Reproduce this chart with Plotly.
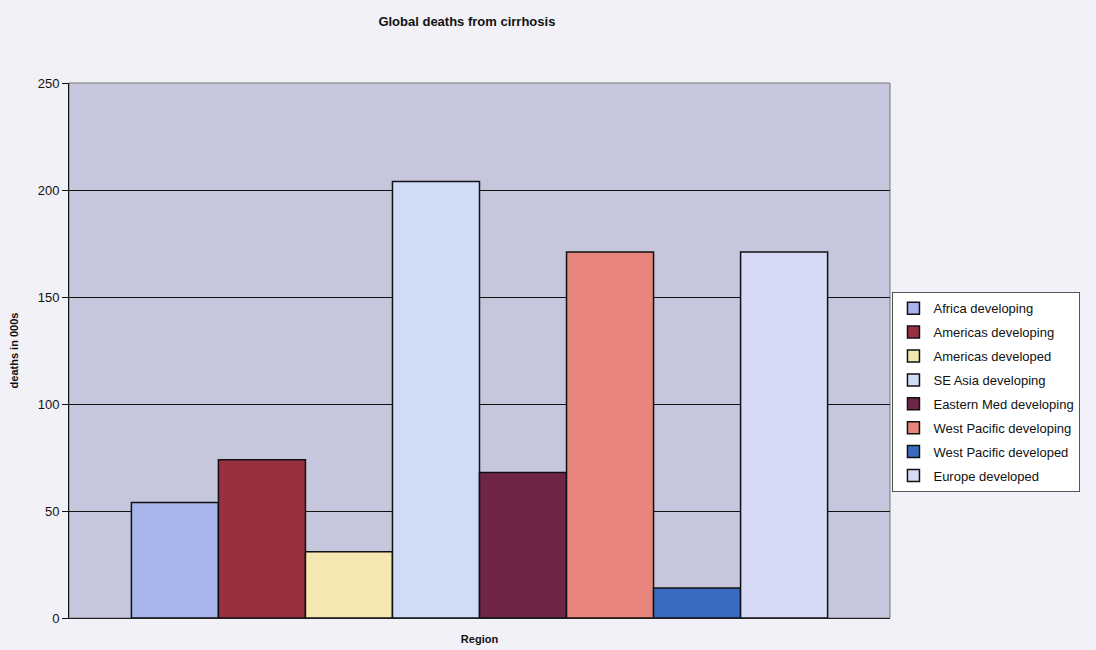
import plotly.graph_objects as go

# Deaths from cirrhosis by WHO region (thousands)
regions = [
    "Africa developing",
    "Americas developing",
    "Americas developed",
    "SE Asia developing",
    "Eastern Med developing",
    "West Pacific developing",
    "West Pacific developed",
    "Europe developed",
]
deaths = [54, 74, 31, 204, 68, 171, 14, 171]
colors = ["#a9b3ec", "#9a2f40", "#f4e7b0", "#d0dcf6", "#6f2547", "#e8857c", "#3a6bc2", "#d6daf6"]

y_ticks = [0, 50, 100, 150, 200, 250]

fig = go.Figure()
for name, val, col in zip(regions, deaths, colors):
    fig.add_trace(go.Bar(
        x=["Region"], y=[val], name=name, legendgroup=name,
        marker=dict(color=col, line=dict(color="#111111", width=1.5)),
        hoverinfo="name+y",
    ))

fig.update_layout(
    width=1096, height=650,
    margin=dict(l=69, r=206, t=83, b=32),
    paper_bgcolor="#f3f1f8",
    plot_bgcolor="#c6c6dc",
    barmode="group",
    bargap=0.152,
    bargroupgap=0,
    font=dict(family="Arial, Liberation Sans, sans-serif", color="#111111"),
    title=dict(text="<b>Global deaths from cirrhosis</b>", x=0.426, xanchor="center",
               y=0.967, yanchor="middle", font=dict(size=13)),
    legend=dict(
        x=1.003, xanchor="left", y=0.422, yanchor="middle",
        bgcolor="#ffffff", bordercolor="#555555", borderwidth=1,
        font=dict(size=13), tracegroupgap=4, itemwidth=30,
    ),
    showlegend=True,
)

fig.update_xaxes(
    showticklabels=False, ticks="", automargin=False,
    title=dict(text="<b>Region</b>", font=dict(size=11), standoff=17),
    showline=True, linecolor="#222222", linewidth=1,
    showgrid=False,
)
fig.update_yaxes(
    range=[0, 250], tickvals=y_ticks, automargin=False,
    ticks="outside", ticklen=6, tickcolor="#111111",
    tickfont=dict(size=13),
    showline=True, linecolor="#111111", linewidth=1,
    showgrid=True, gridcolor="#111111", gridwidth=1,
    zeroline=False,
    title=dict(text="<b>deaths in 000s</b>", font=dict(size=11), standoff=16),
)

# Thin border round the plotting area
fig.add_shape(type="rect", xref="paper", yref="paper", x0=0, y0=0, x1=1, y1=1,
              line=dict(color="#777777", width=1), layer="below")

fig.write_html("out.html")
